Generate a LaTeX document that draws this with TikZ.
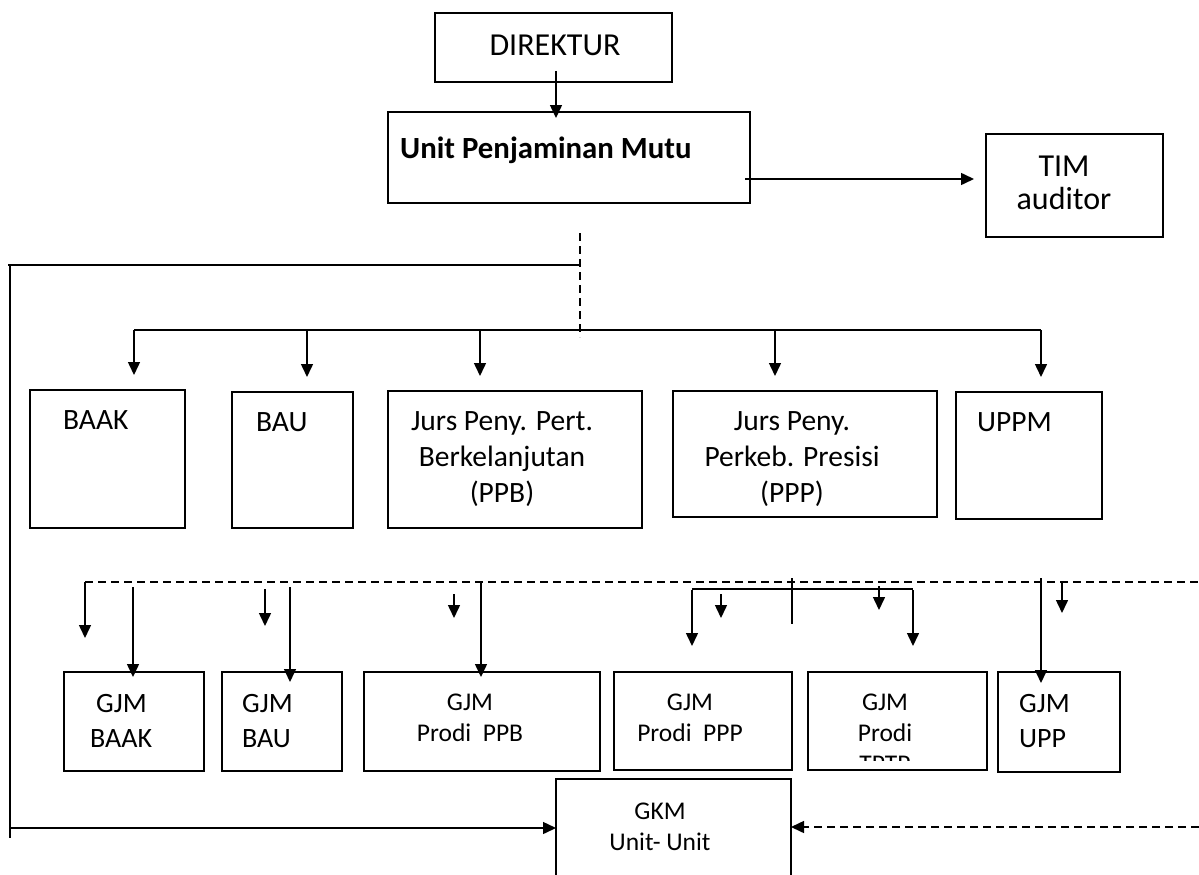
\documentclass[tikz,border=0pt]{standalone}
\usepackage{fontspec}
\setmainfont{Carlito}
\usetikzlibrary{arrows.meta}

\newcommand\txttop{\fontsize{32}{36}\selectfont}
\newcommand\txtbold{\fontsize{30.8}{36}\selectfont\bfseries}
\newcommand\txtbig{\fontsize{29.5}{36}\selectfont}
\newcommand\txtgjm{\fontsize{28}{35}\selectfont}
\newcommand\txtsmall{\fontsize{25.5}{31}\selectfont}

\tikzset{
  box/.style={draw, line width=1.8pt, inner sep=0pt, outer sep=0pt},
  lbl/.style={inner sep=0pt, anchor=base, align=center},
  lblw/.style={inner sep=0pt, anchor=base west, align=left},
  arr/.style={line width=1.5pt, -{Triangle[length=13pt,width=12pt]}},
  dashline/.style={line width=1.5pt, dash pattern=on 8pt off 5pt},
}

\begin{document}
\begin{tikzpicture}[x=1pt,y=-1pt]
  \clip (0,0) rectangle (1199,875);
  % top
  \node[box, minimum width=237pt, minimum height=69pt] (dir) at (553.5,47.5) {};
  \node[lbl, font=\txttop] (dir-t) at (555,56) {DIREKTUR};
  \node[box, minimum width=362pt, minimum height=91pt] (upm) at (569,157.5) {};
  \node[lblw, font=\txtbold] (upm-t) at (400,158) {Unit Penjaminan Mutu};
  \node[box, minimum width=177pt, minimum height=103pt] (tim) at (1074.5,185.5) {};
  \node[lbl, font=\txttop] (tim-t) at (1064,176) {TIM};
  \node[lbl, font=\txttop] (tim-t2) at (1064,209) {auditor};

  % middle row
  \node[box, minimum width=155pt, minimum height=138pt] (baak) at (107.5,459) {};
  \node[box, minimum width=121pt, minimum height=136pt] (bau) at (292.5,460) {};
  \node[box, minimum width=254pt, minimum height=137pt] (ppb) at (515,459.5) {};
  \node[box, minimum width=264pt, minimum height=126pt] (ppp) at (805,454) {};
  \node[box, minimum width=146pt, minimum height=127pt] (uppm) at (1029,455.5) {};
  \node[lblw, font=\txtbig] (baak-t) at (63,429) {BAAK};
  \node[lblw, font=\txtbig] (bau-t) at (256,431) {BAU};
  \node[lbl, font=\txtbig] (ppb-t) at (502,502) {Jurs Peny. Pert.\\Berkelanjutan\\(PPB)};
  \node[lbl, font=\txtbig] (ppp-t) at (792,502) {Jurs Peny.\\Perkeb. Presisi\\(PPP)};
  \node[lblw, font=\txtbig] (uppm-t) at (977,431) {UPPM};

  % GJM row
  \node[box, minimum width=140pt, minimum height=99pt] (gbaak) at (134,721.5) {};
  \node[box, minimum width=120pt, minimum height=99pt] (gbau) at (282,721.5) {};
  \node[box, minimum width=236pt, minimum height=99pt] (gppb) at (482,721.5) {};
  \node[box, minimum width=178pt, minimum height=98pt] (gppp) at (703,721) {};
  \node[box, minimum width=179pt, minimum height=98pt] (gtptp) at (897.5,721) {};
  \node[box, minimum width=122pt, minimum height=100pt] (gupp) at (1059,722) {};
  \node[lblw, font=\txtgjm] (gbaak-t) at (96,712) {GJM};
  \node[lblw, font=\txtgjm] (gbaak-t2) at (90,747) {BAAK};
  \node[lblw, font=\txtgjm] (gbau-t) at (242,747) {GJM\\BAU};
  \node[lbl, font=\txtsmall] (gppb-t) at (470,741) {GJM\\Prodi~~PPB};
  \node[lbl, font=\txtsmall] (gppp-t) at (690,741) {GJM\\Prodi~~PPP};
  \begin{scope}
    \clip (808,672) rectangle (987,760);
    \node[lbl, font=\txtsmall] (gtptp-t) at (885,772) {GJM\\Prodi\\TPTP};
  \end{scope}
  \node[lblw, font=\txtgjm] (gupp-t) at (1019,747) {GJM\\UPP};

  % GKM
  \node[box, minimum width=235pt, minimum height=111pt] (gkm) at (673.5,834.5) {};
  \node[lbl, font=\txtsmall] (gkm-t) at (660,850) {GKM\\Unit- Unit};

  % connectors top
  \coordinate (dirout) at (556,71);
  \draw[arr, shorten >=-6pt] (dirout) -- (dirout |- upm.north);
  \coordinate (upmout) at (745,179);
  \draw[arr, shorten >=12pt] (upmout) -- (upmout -| tim.west);
  \draw[dashline] (580,233) coordinate (dtop) -- (580,337) coordinate (dbot);
  \draw[line width=2.2pt] (dtop |- 0,265) coordinate (lfork) -- (8,265);
  \draw[line width=1.5pt] (10,265) -- (10,838);
  \coordinate (gkmin) at (10,828);
  \coordinate (gkmback) at (1199,827);
  \draw[arr] (gkmin) -- (gkmin -| gkm.west);
  \draw[dashline, -{Triangle[length=13pt,width=12pt]}] (gkmback) -- (gkmback -| gkm.east);

  % bus to middle row
  \draw[line width=2pt] (134,330) coordinate (bus) -- (1041,330);
  \foreach \x/\n in {134/baak, 307/bau, 480/ppb, 775/ppp, 1041/uppm}
    \draw[arr, shorten >=15pt] (\x,330) -- (\x,0 |- \n.north);

  % GJM row
  \draw[dashline] (85,582) -- (1199,582);
  \draw[arr] (85,582) -- (85,638);
  \draw[line width=1.5pt] (692,589) -- (913,589);
  \draw[line width=1.5pt] (792,578) -- (792,624);
  \draw[arr, shorten >=-5pt] (133,587) -- (133,0 |- gbaak.north);
  \draw[arr, shorten >=-10pt] (290,587) -- (290,0 |- gbau.north);
  \draw[arr, shorten >=-5pt] (481,582) -- (481,0 |- gppb.north);
  \draw[arr, shorten >=-11pt] (1041,578) -- (1041,0 |- gupp.north);
  \draw[arr, shorten >=26pt] (692,590) -- (692,0 |- gppp.north);
  \draw[arr, shorten >=26pt] (913,590) -- (913,0 |- gtptp.north);
  \foreach \x/\ya/\yb in {265/589/626, 454/594/618, 721/594/618, 879/586/610, 1062/583/613}
    \draw[arr] (\x,\ya) -- (\x,\yb);
\end{tikzpicture}
\end{document}
